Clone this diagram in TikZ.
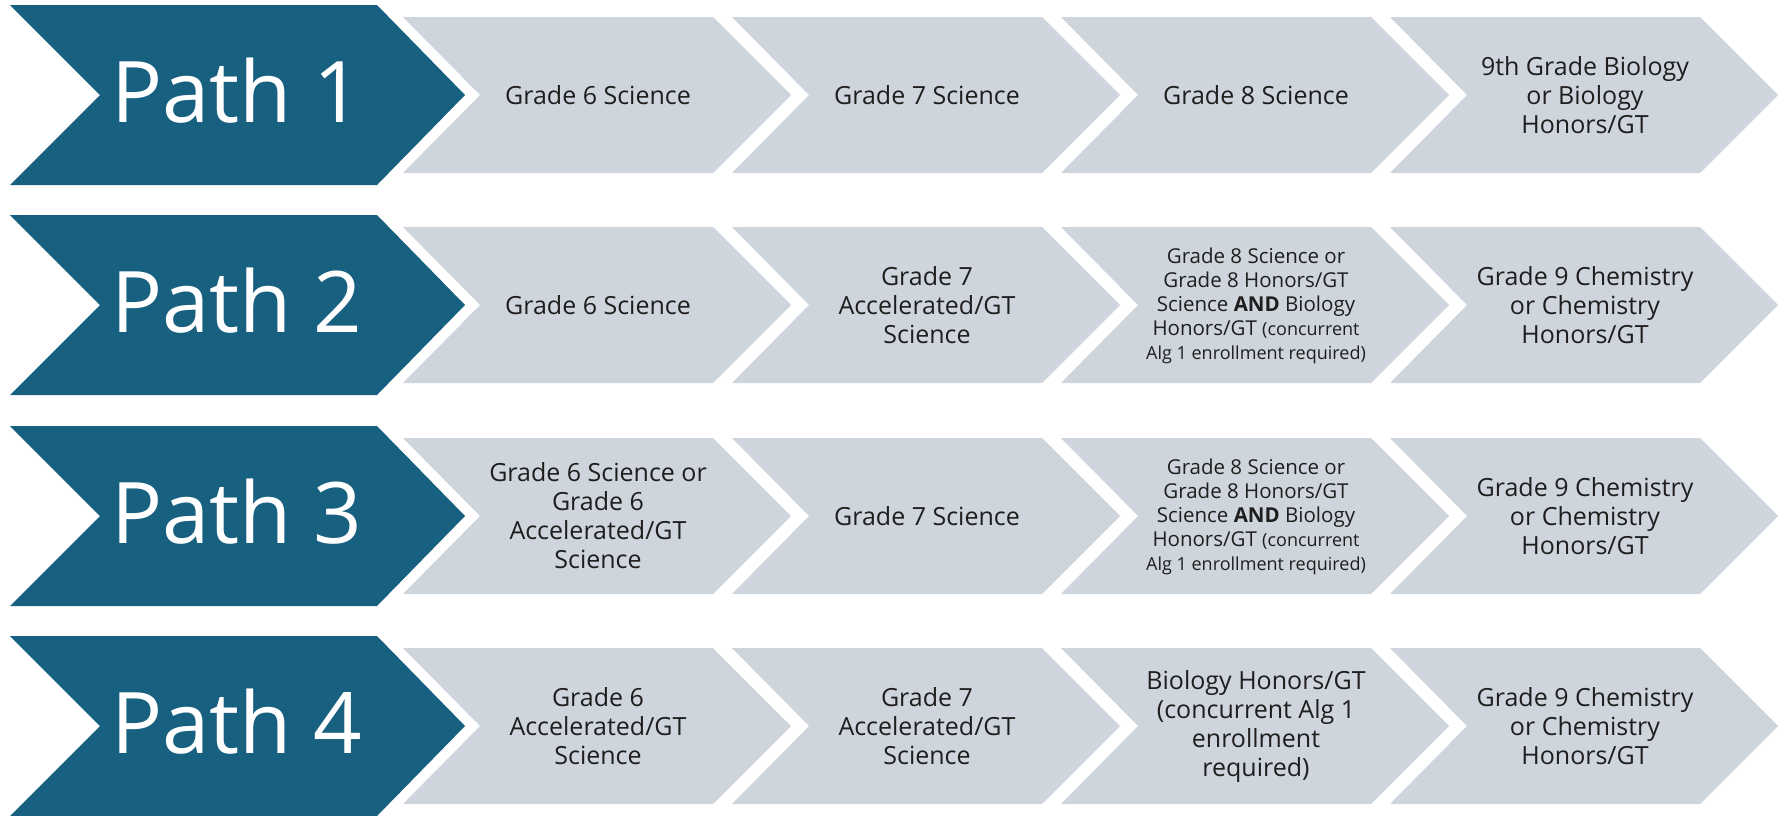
\documentclass[tikz,border=0pt]{standalone}
\usepackage{fontspec}
\setmainfont{Open Sans}
\usepackage{xcolor}
\usepackage{tikz}

\definecolor{pathblue}{RGB}{24,96,128}
\definecolor{stepgrey}{RGB}{207,213,221}
\definecolor{steptext}{RGB}{30,30,30}

% blue banner, #1 = centre line
\newcommand{\bluechev}[1]{%
  \fill[pathblue] (10,#1-90) -- ++(367,0) -- ++(88,90) -- ++(-88,90)
    -- ++(-367,0) -- ++(90,-90) -- cycle;}
% grey step, #1 = left edge, #2 = centre line
\newcommand{\greychev}[2]{%
  \fill[stepgrey] (#1,#2-78) -- ++(310,0) -- ++(78,78) -- ++(-78,78)
    -- ++(-310,0) -- ++(77,-78) -- cycle;}

\begin{document}
\begin{tikzpicture}[
    x=1pt, y=-1pt,
    every node/.style={inner sep=0pt},
    pathlabel/.style={text=white, font=\fontsize{85}{100}\selectfont},
    steplabel/.style={text=steptext, align=center, font=\fontsize{25}{29}\selectfont},
    smalllabel/.style={steplabel, font=\fontsize{20.5}{24}\selectfont}
  ]
    \useasboundingbox (0,0) rectangle (1783,815);

    % banners
    \bluechev{95}
    \bluechev{305}
    \bluechev{516}
    \bluechev{726}

    % steps
    \greychev{403}{95}  \greychev{732}{95}  \greychev{1061}{95}  \greychev{1390}{95}
    \greychev{403}{305} \greychev{732}{305} \greychev{1061}{305} \greychev{1390}{305}
    \greychev{403}{516} \greychev{732}{516} \greychev{1061}{516} \greychev{1390}{516}
    \greychev{403}{726} \greychev{732}{726} \greychev{1061}{726} \greychev{1390}{726}

    % Path 1
    \node[pathlabel] (path1) at (237,91) {Path 1};
    \node[steplabel] (p1g6) at (598,95) {Grade 6 Science};
    \node[steplabel] (p1g7) at (927,95) {Grade 7 Science};
    \node[steplabel] (p1g8) at (1256,95) {Grade 8 Science};
    \node[steplabel] (p1g9) at (1585,95) {9th Grade Biology\\or Biology\\Honors/GT};

    % Path 2
    \node[pathlabel] (path2) at (237,301) {Path 2};
    \node[steplabel] (p2g6) at (598,305) {Grade 6 Science};
    \node[steplabel] (p2g7) at (927,305) {Grade 7\\Accelerated/GT\\Science};
    \node[smalllabel] (p2g8) at (1256,306) {Grade 8 Science or\\Grade 8 Honors/GT\\Science \textbf{AND} Biology\\Honors/GT {\fontsize{18}{24}\selectfont(concurrent}\\{\fontsize{18}{24}\selectfont Alg 1 enrollment required)}};
    \node[steplabel] (p2g9) at (1585,305) {Grade 9 Chemistry\\or Chemistry\\Honors/GT};

    % Path 3
    \node[pathlabel] (path3) at (237,512) {Path 3};
    \node[steplabel] (p3g6) at (598,516) {Grade 6 Science or\\Grade 6\\Accelerated/GT\\Science};
    \node[steplabel] (p3g7) at (927,516) {Grade 7 Science};
    \node[smalllabel] (p3g8) at (1256,517) {Grade 8 Science or\\Grade 8 Honors/GT\\Science \textbf{AND} Biology\\Honors/GT {\fontsize{18}{24}\selectfont(concurrent}\\{\fontsize{18}{24}\selectfont Alg 1 enrollment required)}};
    \node[steplabel] (p3g9) at (1585,516) {Grade 9 Chemistry\\or Chemistry\\Honors/GT};

    % Path 4
    \node[pathlabel] (path4) at (237,722) {Path 4};
    \node[steplabel] (p4g6) at (598,726) {Grade 6\\Accelerated/GT\\Science};
    \node[steplabel] (p4g7) at (927,726) {Grade 7\\Accelerated/GT\\Science};
    \node[steplabel] (p4g8) at (1256,726) {Biology Honors/GT\\(concurrent Alg 1\\enrollment\\required)};
    \node[steplabel] (p4g9) at (1585,726) {Grade 9 Chemistry\\or Chemistry\\Honors/GT};
  \end{tikzpicture}
\end{document}
